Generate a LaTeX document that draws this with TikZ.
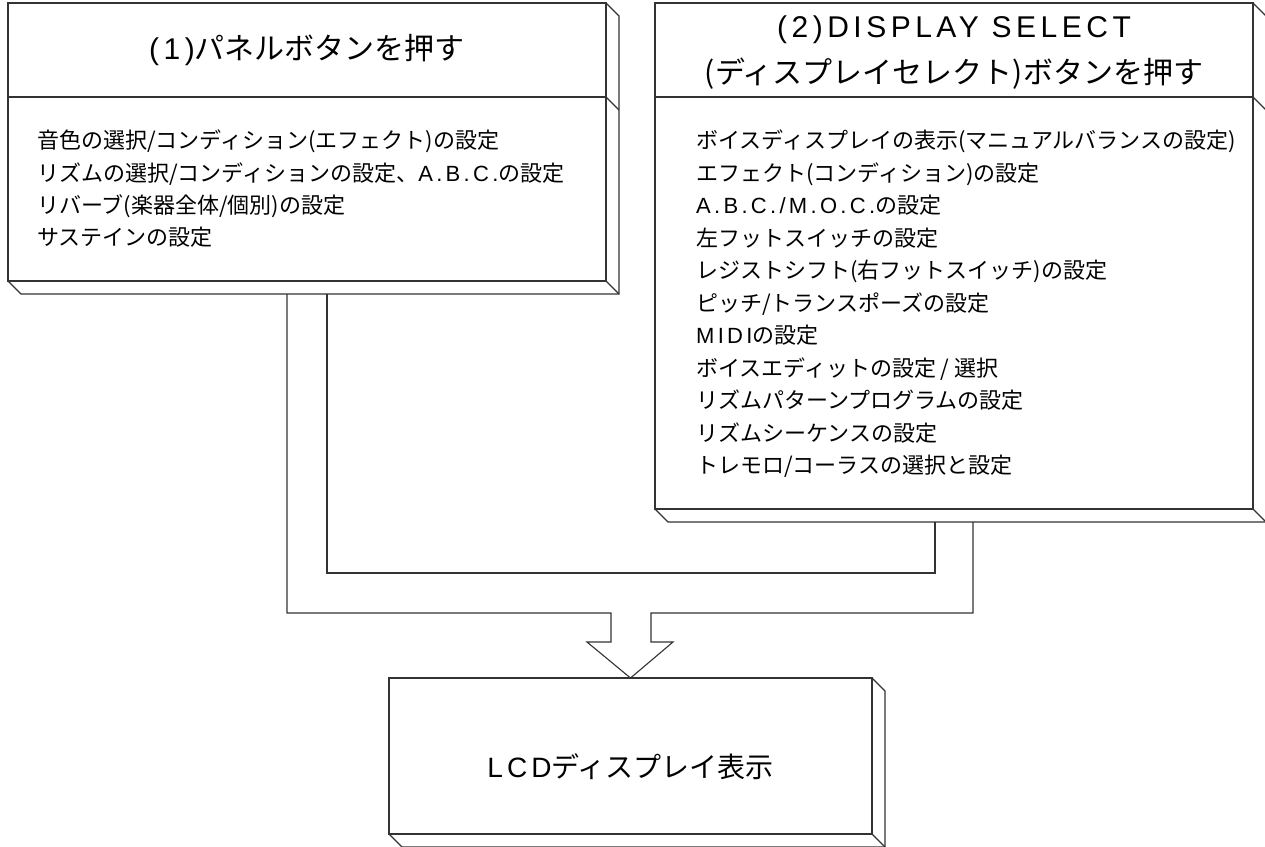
\documentclass[tikz,border=0pt]{standalone}
\usepackage{fontspec}
\setmainfont{Noto Sans CJK JP}
\newfontfamily\latfont{Liberation Sans}[LetterSpace=15]
\newcommand\LatRun[1]{{\latfont #1}}
\usetikzlibrary{calc}
\begin{document}
\begin{tikzpicture}[x=1pt,y=-1pt,
  edge/.style={draw=black!80, line width=1.1pt, line join=miter},
  panel/.style={edge, rectangle, inner sep=0pt, outer sep=0pt, anchor=north west},
  headtext/.style={font=\fontsize{30}{46}\selectfont, align=center, inner sep=0pt},
  bodytext/.style={font=\fontsize{22}{30}\selectfont, anchor=west, inner sep=0pt, text height=0.8em, text depth=0.05em},
  lcdtext/.style={font=\fontsize{28}{34}\selectfont, inner sep=0pt}
]
\useasboundingbox (0,0) rectangle (1265,846);
\def\d{13}
% ---- box 1
\node[panel, minimum width=598pt, minimum height=94pt] (h1) at (8,3) {};
\node[panel, minimum width=598pt, minimum height=184pt] (b1) at (8,97) {};
\draw[edge] (h1.north east) -- ++(\d,\d) -- ($(b1.south east)+(\d,\d)$) -- ($(b1.south west)+(\d,\d)$) -- (b1.south west);
\draw[edge] (h1.south east) -- ++(\d,\d);
\draw[edge] (b1.south east) -- ++(\d,\d);
\node[headtext] (ht1) at (h1.center) {\LatRun{(1)}パネルボタンを押す};
\foreach \t [count=\i] in {{音色の選択/コンディション(エフェクト)の設定},{リズムの選択/コンディションの設定、\LatRun{A.B.C.}の設定},{リバーブ(楽器全体/個別)の設定},{サステインの設定}}
  \node[bodytext] (t1-\i) at (37,{145+32.4*(\i-1)}) {\t};
% ---- box 2
\node[panel, minimum width=598pt, minimum height=94pt] (h2) at (655,3) {};
\node[panel, minimum width=598pt, minimum height=412pt] (b2) at (655,97) {};
\draw[edge] (h2.north east) -- ++(\d,\d) -- ($(b2.south east)+(\d,\d)$) -- ($(b2.south west)+(\d,\d)$) -- (b2.south west);
\draw[edge] (h2.south east) -- ++(\d,\d);
\draw[edge] (b2.south east) -- ++(\d,\d);
\node[headtext] (ht2) at ($(h2.center)+(0,3)$) {\LatRun{(2)DISPLAY SELECT}\\(ディスプレイセレクト)ボタンを押す};
\foreach \t [count=\i] in {{ボイスディスプレイの表示(マニュアルバランスの設定)},{エフェクト(コンディション)の設定},{\LatRun{A.B.C./M.O.C.}の設定},{左フットスイッチの設定},{レジストシフト(右フットスイッチ)の設定},{ピッチ/トランスポーズの設定},{\LatRun{MIDI}の設定},{ボイスエディットの設定 / 選択},{リズムパターンプログラムの設定},{リズムシーケンスの設定},{トレモロ/コーラスの選択と設定}}
  \node[bodytext] (t2-\i) at (696,{145+32.5*(\i-1)}) {\t};
% ---- LCD box
\node[panel, minimum width=483pt, minimum height=156pt] (lcd) at (389,678) {};
\draw[edge] (lcd.north east) -- ++(\d,\d) -- ($(lcd.south east)+(\d,\d)$) -- ($(lcd.south west)+(\d,\d)$) -- (lcd.south west);
\draw[edge] (lcd.south east) -- ++(\d,\d);
\node[lcdtext] (lt) at ($(lcd.center)+(0,11)$) {\LatRun{LCD}ディスプレイ表示};
% ---- connectors
\coordinate (s1o) at (287,294);
\coordinate (s1i) at (327,294);
\coordinate (s2i) at (935,522);
\coordinate (s2o) at (973,522);
\draw[edge] (s1i) |- (s2i |- 0,573) -- (s2i);
\draw[edge] (s1o) |- (611,613) -- (611,642) -- (587,642) -- (lcd.north) -- (673,642) -- (651,642) -- (651,613) -| (s2o);
\end{tikzpicture}
\end{document}
